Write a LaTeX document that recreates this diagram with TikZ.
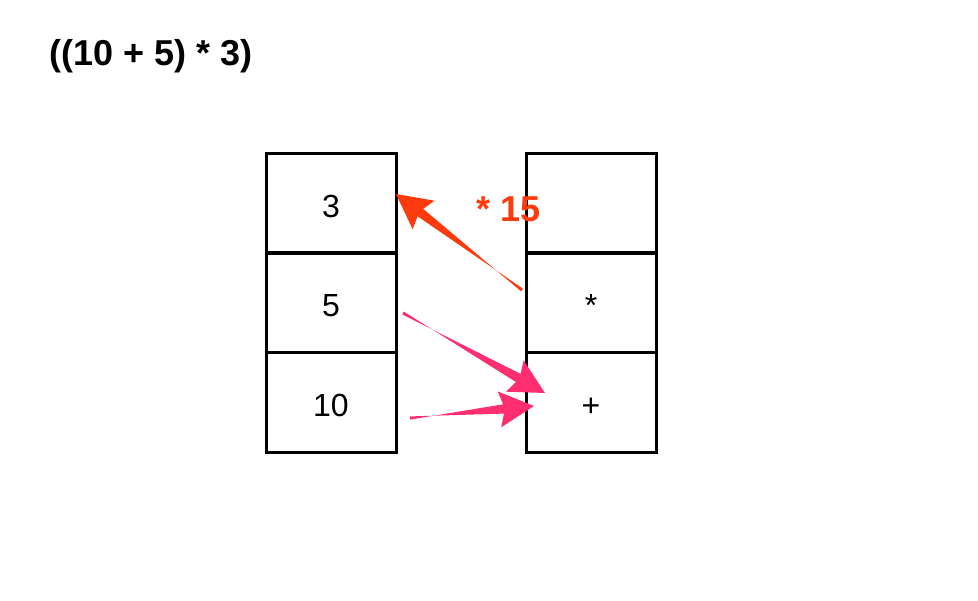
\documentclass[tikz,border=0pt]{standalone}
\usepackage{fontspec}
\setmainfont{Liberation Sans}
\usepackage{xcolor}
\usetikzlibrary{calc}
\definecolor{evalred}{RGB}{255,58,12}
\definecolor{evalpink}{RGB}{255,46,112}

\tikzset{
  cell/.style={draw, line width=2.25pt, minimum width=97.5pt, minimum height=75pt, inner sep=0pt,
    text height=22pt, text depth=0pt, font=\fontsize{24}{28}\selectfont},
  heading/.style={font=\fontsize{27}{32}\selectfont\bfseries}
}
% tapered arrow: colour, tail, tip
\newcommand{\taperarrow}[3]{
  \coordinate (headBase) at ($(#3)!26pt!(#2)$);
  \coordinate (barb) at ($(#3)!23pt!(#2)$);
  \fill[#1] (#2) -- ($(#2)!1.2pt!90:(#3)$) -- ($(barb)!3.5pt!-90:(#3)$)
     -- ($(headBase)!13.5pt!-90:(#3)$) -- (#3) -- ($(headBase)!13.5pt!90:(#3)$)
     -- ($(barb)!3.5pt!90:(#3)$) -- ($(#2)!1.2pt!-90:(#3)$) -- cycle;
}

\begin{document}
\begin{tikzpicture}[x=0.75pt, y=-0.75pt]
    \useasboundingbox (0,0) rectangle (978,600);
    \node[heading, anchor=west] (expr) at (45,56) {((10 + 5) * 3)};
    % operand stack
    \node[cell] (num3) at (331,203) {3};
    \node[cell] (num5) at (331,302) {5};
    \node[cell] (num10) at (331,402) {10};
    % operator stack
    \node[cell] (opTop) at (591,203) {};
    \node[cell] (opMul) at (591,302) {*};
    \node[cell] (opAdd) at (591,402) {+};
    \node[heading, text=evalred] (result) at (509,209) {* 15};
    % arrow ends
    \coordinate (redTail) at (522,290);
    \coordinate (redTip) at (396,194);
    \coordinate (fiveTail) at (403,313);
    \coordinate (fiveTip) at (545,393);
    \coordinate (tenTail) at (410,418);
    \coordinate (tenTip) at (534,406);
    \taperarrow{evalred}{redTail}{redTip}
    \taperarrow{evalpink}{fiveTail}{fiveTip}
    \taperarrow{evalpink}{tenTail}{tenTip}
\end{tikzpicture}
\end{document}
